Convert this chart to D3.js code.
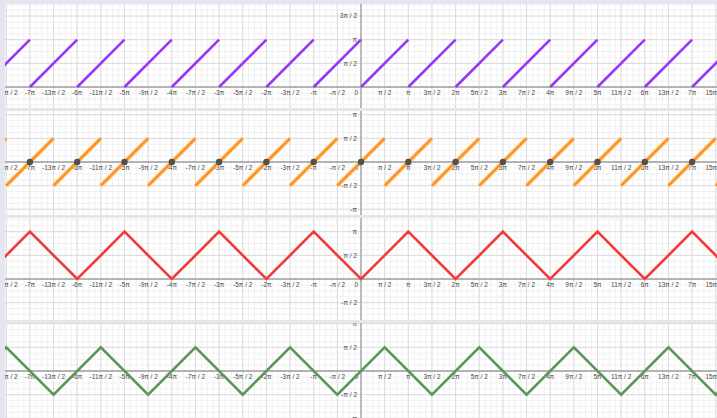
<!DOCTYPE html>
<html>
<head>
<meta charset="utf-8">
<style>
  body { margin: 0; background: #e5e5ef; }
  svg { display: block; }
  .lbl { font-family: "Liberation Sans", Arial, sans-serif; font-size: 6.5px; fill: #474747; }
</style>
</head>
<body>
<div id="chart"></div>
<script src="https://cdn.jsdelivr.net/npm/d3@7"></script>
<script>
// all values in units of pi
var xTickValues = [-7.5,-7,-6.5,-6,-5.5,-5,-4.5,-4,-3.5,-3,-2.5,-2,-1.5,-1,-0.5,0,0.5,1,1.5,2,2.5,3,3.5,4,4.5,5,5.5,6,6.5,7,7.5];
var xTickLabels = ["-15π / 2","-7π","-13π / 2","-6π","-11π / 2","-5π","-9π / 2","-4π","-7π / 2","-3π","-5π / 2","-2π","-3π / 2","-π","-π / 2","0",
                   "π / 2","π","3π / 2","2π","5π / 2","3π","7π / 2","4π","9π / 2","5π","11π / 2","6π","13π / 2","7π","15π / 2"];
var yTickValues = [-1.5,-1,-0.5,0.5,1,1.5];
var yTickLabels = ["-3π / 2","-π","-π / 2","π / 2","π","3π / 2"];

// purple: segments [x0, y0, x1, y1]
var purpleSegs = [
  [-8,0,-7,1],[-7,0,-6,1],[-6,0,-5,1],[-5,0,-4,1],[-4,0,-3,1],[-3,0,-2,1],[-2,0,-1,1],[-1,0,0,1],
  [0,0,1,1],[1,0,2,1],[2,0,3,1],[3,0,4,1],[4,0,5,1],[5,0,6,1],[6,0,7,1],[7,0,8,1]
];
// orange: segments and zero points
var orangeSegs = [
  [-8.5,-0.5,-7.5,0.5],[-7.5,-0.5,-6.5,0.5],[-6.5,-0.5,-5.5,0.5],[-5.5,-0.5,-4.5,0.5],[-4.5,-0.5,-3.5,0.5],
  [-3.5,-0.5,-2.5,0.5],[-2.5,-0.5,-1.5,0.5],[-1.5,-0.5,-0.5,0.5],[-0.5,-0.5,0.5,0.5],[0.5,-0.5,1.5,0.5],
  [1.5,-0.5,2.5,0.5],[2.5,-0.5,3.5,0.5],[3.5,-0.5,4.5,0.5],[4.5,-0.5,5.5,0.5],[5.5,-0.5,6.5,0.5],
  [6.5,-0.5,7.5,0.5],[7.5,-0.5,8.5,0.5]
];
var orangePoints = [[-7,0],[-6,0],[-5,0],[-4,0],[-3,0],[-2,0],[-1,0],[0,0],[1,0],[2,0],[3,0],[4,0],[5,0],[6,0],[7,0]];
// red: polyline vertices
var redPts = [[-8,0],[-7,1],[-6,0],[-5,1],[-4,0],[-3,1],[-2,0],[-1,1],[0,0],[1,1],[2,0],[3,1],[4,0],[5,1],[6,0],[7,1],[8,0]];
// green: polyline vertices
var greenPts = [[-8.5,-0.5],[-7.5,0.5],[-6.5,-0.5],[-5.5,0.5],[-4.5,-0.5],[-3.5,0.5],[-2.5,-0.5],[-1.5,0.5],[-0.5,-0.5],
  [0.5,0.5],[1.5,-0.5],[2.5,0.5],[3.5,-0.5],[4.5,0.5],[5.5,-0.5],[6.5,0.5],[7.5,-0.5],[8.5,0.5]];

var W = 717, H = 418;
var panelLeft = 5, originX = 361, unit = 47.3;

var panels = [
  {top: 4,   bottom: 108, axisY: 87},
  {top: 111, bottom: 215, axisY: 162},
  {top: 218, bottom: 320, axisY: 279},
  {top: 323, bottom: 418, axisY: 371}
];

var svg = d3.select("#chart").append("svg").attr("width", W).attr("height", H);
svg.append("rect").attr("width", W).attr("height", H).attr("fill", "#e5e5ef");

var x = d3.scaleLinear()
  .domain([(panelLeft - originX) / unit, (W - originX) / unit])
  .range([panelLeft, W]);

panels.forEach(function(p, i) {
  var y = d3.scaleLinear().domain([0, 1]).range([p.axisY, p.axisY - unit]);
  var g = svg.append("g");
  var clipId = "clip" + i;
  svg.append("clipPath").attr("id", clipId).append("rect")
    .attr("x", panelLeft).attr("y", p.top).attr("width", W - panelLeft).attr("height", p.bottom - p.top);
  g.attr("clip-path", "url(#" + clipId + ")");

  g.append("rect").attr("x", panelLeft).attr("y", p.top)
    .attr("width", W - panelLeft).attr("height", p.bottom - p.top).attr("fill", "#fff");

  // minor grid
  var minorX = d3.range(Math.floor(x.domain()[0] * 8), Math.ceil(x.domain()[1] * 8) + 1).map(function(k) { return k / 8; });
  var yDom = [y.invert(p.bottom), y.invert(p.top)];
  var minorY = d3.range(Math.floor(yDom[0] * 8), Math.ceil(yDom[1] * 8) + 1).map(function(k) { return k / 8; });
  g.selectAll(".mx").data(minorX).enter().append("line")
    .attr("x1", function(d) { return x(d); }).attr("x2", function(d) { return x(d); })
    .attr("y1", p.top).attr("y2", p.bottom).attr("stroke", "#f1f1f1").attr("stroke-width", 1);
  g.selectAll(".my").data(minorY).enter().append("line")
    .attr("y1", function(d) { return y(d); }).attr("y2", function(d) { return y(d); })
    .attr("x1", panelLeft).attr("x2", W).attr("stroke", "#f1f1f1").attr("stroke-width", 1);

  // major grid
  var majorY = minorY.filter(function(d) { return Math.abs(d * 2 - Math.round(d * 2)) < 1e-9; });
  g.selectAll(".gx").data(xTickValues).enter().append("line")
    .attr("x1", function(d) { return x(d); }).attr("x2", function(d) { return x(d); })
    .attr("y1", p.top).attr("y2", p.bottom).attr("stroke", "#dcdcdc").attr("stroke-width", 1);
  g.selectAll(".gy").data(majorY).enter().append("line")
    .attr("y1", function(d) { return y(d); }).attr("y2", function(d) { return y(d); })
    .attr("x1", panelLeft).attr("x2", W).attr("stroke", "#dcdcdc").attr("stroke-width", 1);

  // axes
  g.append("line").attr("x1", panelLeft).attr("x2", W).attr("y1", p.axisY).attr("y2", p.axisY)
    .attr("stroke", "#a0a0a0").attr("stroke-width", 1.3);
  g.append("line").attr("x1", x(0)).attr("x2", x(0)).attr("y1", p.top).attr("y2", p.bottom)
    .attr("stroke", "#a0a0a0").attr("stroke-width", 1.3);

  // x tick labels
  g.selectAll(".xl").data(xTickValues).enter().append("text")
    .attr("class", "lbl")
    .attr("x", function(d) { return d === 0 ? x(0) - 3 : x(d); })
    .attr("y", p.axisY + 7.5)
    .attr("text-anchor", function(d) { return d === 0 ? "end" : "middle"; })
    .text(function(d, j) { return xTickLabels[j]; });

  // y tick labels, only those inside this panel
  var yTicks = yTickValues.map(function(v, j) { return {v: v, t: yTickLabels[j]}; })
    .filter(function(d) { return y(d.v) >= p.top - 3 && y(d.v) <= p.bottom + 1; });
  g.selectAll(".yl").data(yTicks).enter().append("text")
    .attr("class", "lbl")
    .attr("x", x(0) - 4)
    .attr("y", function(d) { return y(d.v) + 2.3; })
    .attr("text-anchor", "end")
    .text(function(d) { return d.t; });

  var line = d3.line().x(function(d) { return x(d[0]); }).y(function(d) { return y(d[1]); });

  if (i === 0) {
    g.selectAll(".ps").data(purpleSegs).enter().append("path")
      .attr("d", function(d) { return line([[d[0], d[1]], [d[2], d[3]]]); })
      .attr("stroke", "#9a36f5").attr("stroke-width", 2.6).attr("fill", "none");
  } else if (i === 1) {
    g.selectAll(".os").data(orangeSegs).enter().append("path")
      .attr("d", function(d) { return line([[d[0], d[1]], [d[2], d[3]]]); })
      .attr("stroke", "#ffbb66").attr("stroke-width", 4).attr("fill", "none");
    g.selectAll(".os2").data(orangeSegs).enter().append("path")
      .attr("d", function(d) { return line([[d[0], d[1]], [d[2], d[3]]]); })
      .attr("stroke", "#ff8c1a").attr("stroke-width", 1.8).attr("fill", "none");
    g.selectAll(".op").data(orangePoints).enter().append("circle")
      .attr("cx", function(d) { return x(d[0]); }).attr("cy", function(d) { return y(d[1]); })
      .attr("r", 3.2).attr("fill", "#505050");
  } else if (i === 2) {
    g.append("path").datum(redPts).attr("d", line)
      .attr("stroke", "#f23a3a").attr("stroke-width", 2.6).attr("fill", "none");
  } else {
    g.append("path").datum(greenPts).attr("d", line)
      .attr("stroke", "#5c955c").attr("stroke-width", 2.6).attr("fill", "none");
  }
});
</script>
</body>
</html>
